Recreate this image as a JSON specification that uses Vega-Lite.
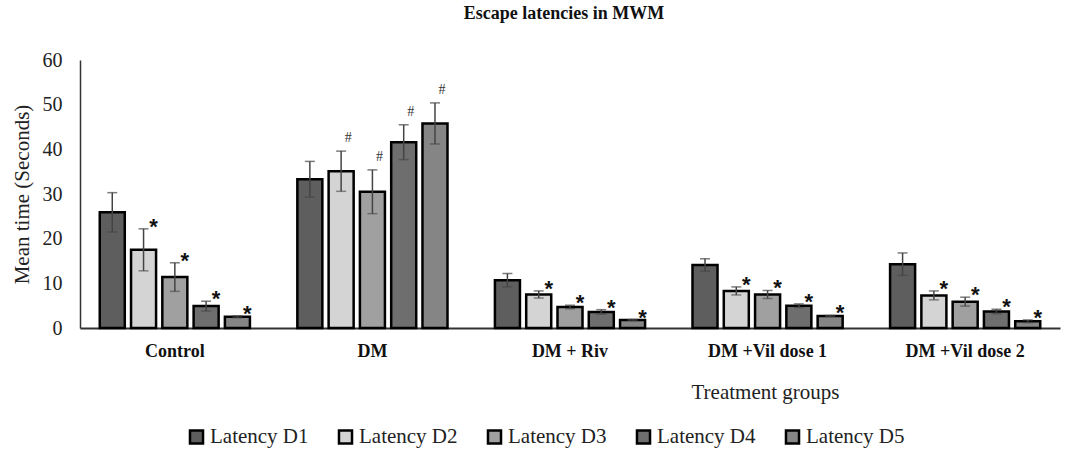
{
  "$schema": "https://vega.github.io/schema/vega-lite/v6.json",
  "autosize": "none",
  "width": 980,
  "height": 268,
  "padding": {"left": 80, "top": 60, "right": 19, "bottom": 128},
  "background": "white",
  "config": {
    "view": {"stroke": null},
    "font": "Liberation Serif, Times New Roman, serif",
    "axis": {"labelFont": "Liberation Serif, Times New Roman, serif", "titleFont": "Liberation Serif, Times New Roman, serif"},
    "legend": {"labelFont": "Liberation Serif, Times New Roman, serif"}
  },
  "title": {
    "text": "Escape latencies in MWM",
    "font": "Liberation Serif, Times New Roman, serif",
    "fontSize": 18,
    "fontWeight": "bold",
    "anchor": "middle",
    "dx": -6,
    "offset": 27,
    "color": "#111"
  },
  "data": {
    "values": [
      {"group": "Control", "day": "Latency D1", "mean": 25.9, "lower": 21.5, "upper": 30.3, "sig": ""},
      {"group": "Control", "day": "Latency D2", "mean": 17.5, "lower": 12.8, "upper": 22.2, "sig": "*"},
      {"group": "Control", "day": "Latency D3", "mean": 11.4, "lower": 8.2, "upper": 14.6, "sig": "*"},
      {"group": "Control", "day": "Latency D4", "mean": 4.9, "lower": 3.8, "upper": 6.0, "sig": "*"},
      {"group": "Control", "day": "Latency D5", "mean": 2.5, "lower": 2.3, "upper": 2.7, "sig": "*"},
      {"group": "DM", "day": "Latency D1", "mean": 33.3, "lower": 29.3, "upper": 37.3, "sig": ""},
      {"group": "DM", "day": "Latency D2", "mean": 35.1, "lower": 30.6, "upper": 39.6, "sig": "#"},
      {"group": "DM", "day": "Latency D3", "mean": 30.5, "lower": 25.6, "upper": 35.4, "sig": "#"},
      {"group": "DM", "day": "Latency D4", "mean": 41.6, "lower": 37.7, "upper": 45.5, "sig": "#"},
      {"group": "DM", "day": "Latency D5", "mean": 45.8, "lower": 41.2, "upper": 50.4, "sig": "#"},
      {"group": "DM + Riv", "day": "Latency D1", "mean": 10.7, "lower": 9.2, "upper": 12.2, "sig": ""},
      {"group": "DM + Riv", "day": "Latency D2", "mean": 7.5, "lower": 6.7, "upper": 8.3, "sig": "*"},
      {"group": "DM + Riv", "day": "Latency D3", "mean": 4.7, "lower": 4.3, "upper": 5.1, "sig": "*"},
      {"group": "DM + Riv", "day": "Latency D4", "mean": 3.6, "lower": 3.1, "upper": 4.1, "sig": "*"},
      {"group": "DM + Riv", "day": "Latency D5", "mean": 1.8, "lower": 1.7, "upper": 1.9, "sig": "*"},
      {"group": "DM +Vil dose 1", "day": "Latency D1", "mean": 14.1, "lower": 12.7, "upper": 15.5, "sig": ""},
      {"group": "DM +Vil dose 1", "day": "Latency D2", "mean": 8.3, "lower": 7.4, "upper": 9.2, "sig": "*"},
      {"group": "DM +Vil dose 1", "day": "Latency D3", "mean": 7.5, "lower": 6.6, "upper": 8.4, "sig": "*"},
      {"group": "DM +Vil dose 1", "day": "Latency D4", "mean": 5.0, "lower": 4.6, "upper": 5.4, "sig": "*"},
      {"group": "DM +Vil dose 1", "day": "Latency D5", "mean": 2.7, "lower": 2.6, "upper": 2.8, "sig": "*"},
      {"group": "DM +Vil  dose 2", "day": "Latency D1", "mean": 14.3, "lower": 11.8, "upper": 16.8, "sig": ""},
      {"group": "DM +Vil  dose 2", "day": "Latency D2", "mean": 7.3, "lower": 6.3, "upper": 8.3, "sig": "*"},
      {"group": "DM +Vil  dose 2", "day": "Latency D3", "mean": 5.9, "lower": 4.9, "upper": 6.9, "sig": "*"},
      {"group": "DM +Vil  dose 2", "day": "Latency D4", "mean": 3.7, "lower": 3.2, "upper": 4.2, "sig": "*"},
      {"group": "DM +Vil  dose 2", "day": "Latency D5", "mean": 1.5, "lower": 1.2, "upper": 1.8, "sig": "*"}
    ]
  },
  "encoding": {
    "x": {
      "field": "group",
      "type": "nominal",
      "sort": null,
      "scale": {"paddingInner": 0.24, "paddingOuter": 0.1},
      "axis": {
        "title": "Treatment groups",
        "labelAngle": 0,
        "labelFontSize": 18,
        "labelFontWeight": "bold",
        "labelColor": "#111",
        "labelPadding": 14,
        "ticks": false,
        "domainColor": "#333",
        "domainWidth": 2,
        "titleFontSize": 21,
        "titleFontWeight": "normal",
        "titleColor": "#222",
        "titlePadding": 21,
        "titleX": 685,
        "titleAnchor": "start",
        "titleAlign": "center"
      }
    },
    "xOffset": {
      "field": "day",
      "type": "nominal",
      "sort": null,
      "scale": {"paddingInner": 0.2, "paddingOuter": 0}
    }
  },
  "layer": [
    {
      "mark": {"type": "bar", "stroke": "#000", "strokeWidth": 2.5},
      "encoding": {
        "y": {
          "field": "mean",
          "type": "quantitative",
          "scale": {"domain": [0, 60]},
          "axis": {
            "title": "Mean time (Seconds)",
            "values": [0, 10, 20, 30, 40, 50, 60],
            "grid": false,
            "ticks": false,
            "labelFontSize": 20,
            "labelColor": "#222",
            "labelPadding": 18,
            "domainColor": "#333",
            "domainWidth": 1.5,
            "titleFontSize": 21,
            "titleFontWeight": "normal",
            "titleColor": "#222",
            "titlePadding": 10
          }
        },
        "fill": {
          "field": "day",
          "type": "nominal",
          "sort": null,
          "scale": {"range": ["#5e5e5e", "#d4d4d4", "#a0a0a0", "#6e6e6e", "#858585"]},
          "legend": {
            "title": null,
            "orient": "none",
            "direction": "horizontal",
            "legendX": 106,
            "legendY": 366,
            "symbolType": "square",
            "symbolSize": 170,
            "symbolStrokeColor": "#000",
            "symbolStrokeWidth": 2.5,
            "labelFontSize": 21,
            "labelColor": "#222",
            "labelOffset": 3,
            "labelLimit": 300,
            "columnPadding": 24
          }
        }
      }
    },
    {
      "mark": {"type": "rule", "color": "#444", "strokeWidth": 1.5},
      "encoding": {
        "y": {"field": "lower", "type": "quantitative"},
        "y2": {"field": "upper"}
      }
    },
    {
      "mark": {"type": "tick", "color": "#444", "thickness": 1.5, "size": 10, "orient": "horizontal"},
      "encoding": {
        "y": {"field": "upper", "type": "quantitative"}
      }
    },
    {
      "mark": {"type": "tick", "color": "#444", "thickness": 1.5, "size": 10, "orient": "horizontal", "opacity": 0.6},
      "encoding": {
        "y": {"field": "lower", "type": "quantitative"}
      }
    },
    {
      "transform": [{"filter": "datum.sig == '*'"}],
      "mark": {"type": "text", "font": "Liberation Sans", "fontSize": 22, "fontWeight": "bold", "color": "#111", "baseline": "middle", "dx": 10, "dy": -2},
      "encoding": {
        "y": {"field": "upper", "type": "quantitative"},
        "text": {"field": "sig"}
      }
    },
    {
      "transform": [{"filter": "datum.sig == '#'"}],
      "mark": {"type": "text", "font": "Liberation Serif, Times New Roman, serif", "fontSize": 14, "color": "#333", "baseline": "bottom", "dx": 7, "dy": -6},
      "encoding": {
        "y": {"field": "upper", "type": "quantitative"},
        "text": {"field": "sig"}
      }
    }
  ]
}
